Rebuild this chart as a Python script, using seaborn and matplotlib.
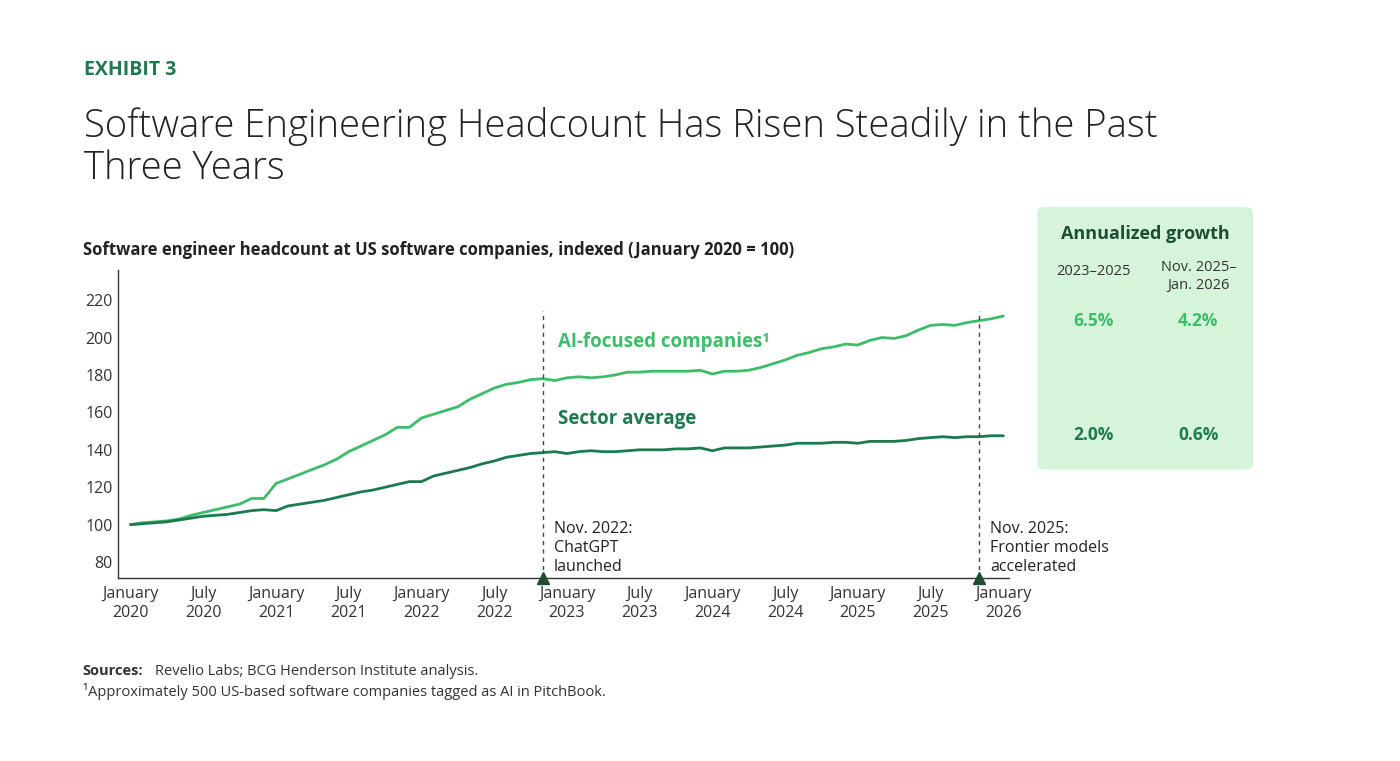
import matplotlib
matplotlib.use("Agg")
import matplotlib.pyplot as plt
import seaborn as sns
import pandas as pd
from matplotlib.patches import FancyBboxPatch

ai_values = [100,101,101.5,102,103,105,106.5,108,109.5,111,114,114,
             122,124.5,127,129.5,132,135,139,142,145,148,152,152,
             157,159,161,163,167,170,173,175,176,177.5,178,177,
             178.5,179,178.5,179,180,181.5,181.5,182,182,182,182,182.5,
             180.5,182,182,182.5,184,186,188,190.5,192,194,195,196.5,
             196,198.5,200,199.5,201,204,206.5,207,206.5,208,209,210,
             211.5]
sector_values = [100,100.5,101,101.5,102.5,103.5,104.5,105,105.5,106.5,107.5,108,
                 107.5,110,111,112,113,114.5,116,117.5,118.5,120,121.5,123,
                 123,126,127.5,129,130.5,132.5,134,136,137,138,138.5,139,
                 138,139,139.5,139,139,139.5,140,140,140,140.5,140.5,141,
                 139.5,141,141,141,141.5,142,142.5,143.5,143.5,143.5,144,144,
                 143.5,144.5,144.5,144.5,145,146,146.5,147,146.5,147,147,147.5,
                 147.5]
tick_labels = ["January\n2020","July\n2020","January\n2021","July\n2021","January\n2022",
               "July\n2022","January\n2023","July\n2023","January\n2024","July\n2024",
               "January\n2025","July\n2025","January\n2026"]
event_months = [34, 70]
event_labels = ["Nov. 2022:\nChatGPT\nlaunched", "Nov. 2025:\nFrontier models\naccelerated"]

AI_C = "#3dbd6a"
SEC_C = "#1d7a4e"
DARK = "#1f4d33"

sns.set_theme(style="white")
plt.rcParams['font.family'] = ['Open Sans', 'DejaVu Sans']

df = pd.DataFrame({"month": list(range(len(ai_values))) * 2,
                   "value": ai_values + sector_values,
                   "series": ["AI"] * len(ai_values) + ["Sector"] * len(sector_values)})

fig = plt.figure(figsize=(14, 7.61), dpi=100)
ax = fig.add_axes([0.084, 0.2405, 0.637, 0.4045])
sns.lineplot(data=df, x="month", y="value", hue="series", palette={"AI": AI_C, "Sector": SEC_C},
             linewidth=2, legend=False, ax=ax)
ax.set_xlim(-1.07, 72.5)
ax.set_ylim(71.5, 236)
ax.set_yticks(range(80, 221, 20))
ax.set_xticks(range(0, 73, 6))
ax.set_xticklabels(tick_labels, fontsize=11.5, color="#333333")
ax.tick_params(axis='y', labelsize=11.5, colors="#333333", length=0)
ax.tick_params(axis='x', length=0, pad=6)
ax.set_xlabel(""); ax.set_ylabel("")
for s in ["top", "right"]:
    ax.spines[s].set_visible(False)
for s in ["left", "bottom"]:
    ax.spines[s].set_color("#333333"); ax.spines[s].set_linewidth(1)

for m, lab in zip(event_months, event_labels):
    ax.plot([m, m], [71.5, 214], ls=(0, (3, 3)), color="#444444", lw=1)
    ax.plot([m], [71.5], marker="^", color=DARK, markersize=9, clip_on=False, zorder=5)
    ax.text(m + 0.9, 102, lab, fontsize=11.5, color="#222222", va="top", ha="left", linespacing=1.25)

ax.text(35.3, 195, "AI-focused companies¹", color=AI_C, fontsize=13.5, fontweight="bold")
ax.text(35.3, 154, "Sector average", color=SEC_C, fontsize=13.5, fontweight="bold")

fig.text(0.06, 0.902, "EXHIBIT 3", fontsize=14, fontweight="bold", color="#1d7a4e")
fig.text(0.06, 0.765, "Software Engineering Headcount Has Risen Steadily in the Past\nThree Years",
         fontsize=27.5, color="#222222", linespacing=1.12, fontweight="light")
fig.text(0.059, 0.665, "Software engineer headcount at US software companies, indexed (January 2020 = 100)",
         fontsize=12, fontweight="bold", color="#222222")

box = FancyBboxPatch((0.741, 0.383), 0.154, 0.345, boxstyle="round,pad=0,rounding_size=0.006",
                     transform=fig.transFigure, facecolor="#d6f4da", edgecolor="none")
fig.patches.append(box)
fig.text(0.818, 0.686, "Annualized growth", fontsize=13, fontweight="bold", color=DARK, ha="center")
fig.text(0.781, 0.638, "2023–2025", fontsize=10.5, color="#333333", ha="center")
fig.text(0.856, 0.62, "Nov. 2025–\nJan. 2026", fontsize=10.5, color="#333333", ha="center", linespacing=1.3)
for y, vals, c in [(0.572, ("6.5%", "4.2%"), AI_C), (0.422, ("2.0%", "0.6%"), SEC_C)]:
    fig.text(0.781, y, vals[0], fontsize=12.5, fontweight="bold", color=c, ha="center")
    fig.text(0.856, y, vals[1], fontsize=12.5, fontweight="bold", color=c, ha="center")

fig.text(0.059, 0.113, "Sources:", fontsize=10.5, color="#333333", fontweight="bold")
fig.text(0.111, 0.113, "Revelio Labs; BCG Henderson Institute analysis.", fontsize=10.5, color="#333333")
fig.text(0.059, 0.085, "¹Approximately 500 US-based software companies tagged as AI in PitchBook.", fontsize=10.5, color="#333333")

fig.savefig("out.png", dpi=100, facecolor="white")
